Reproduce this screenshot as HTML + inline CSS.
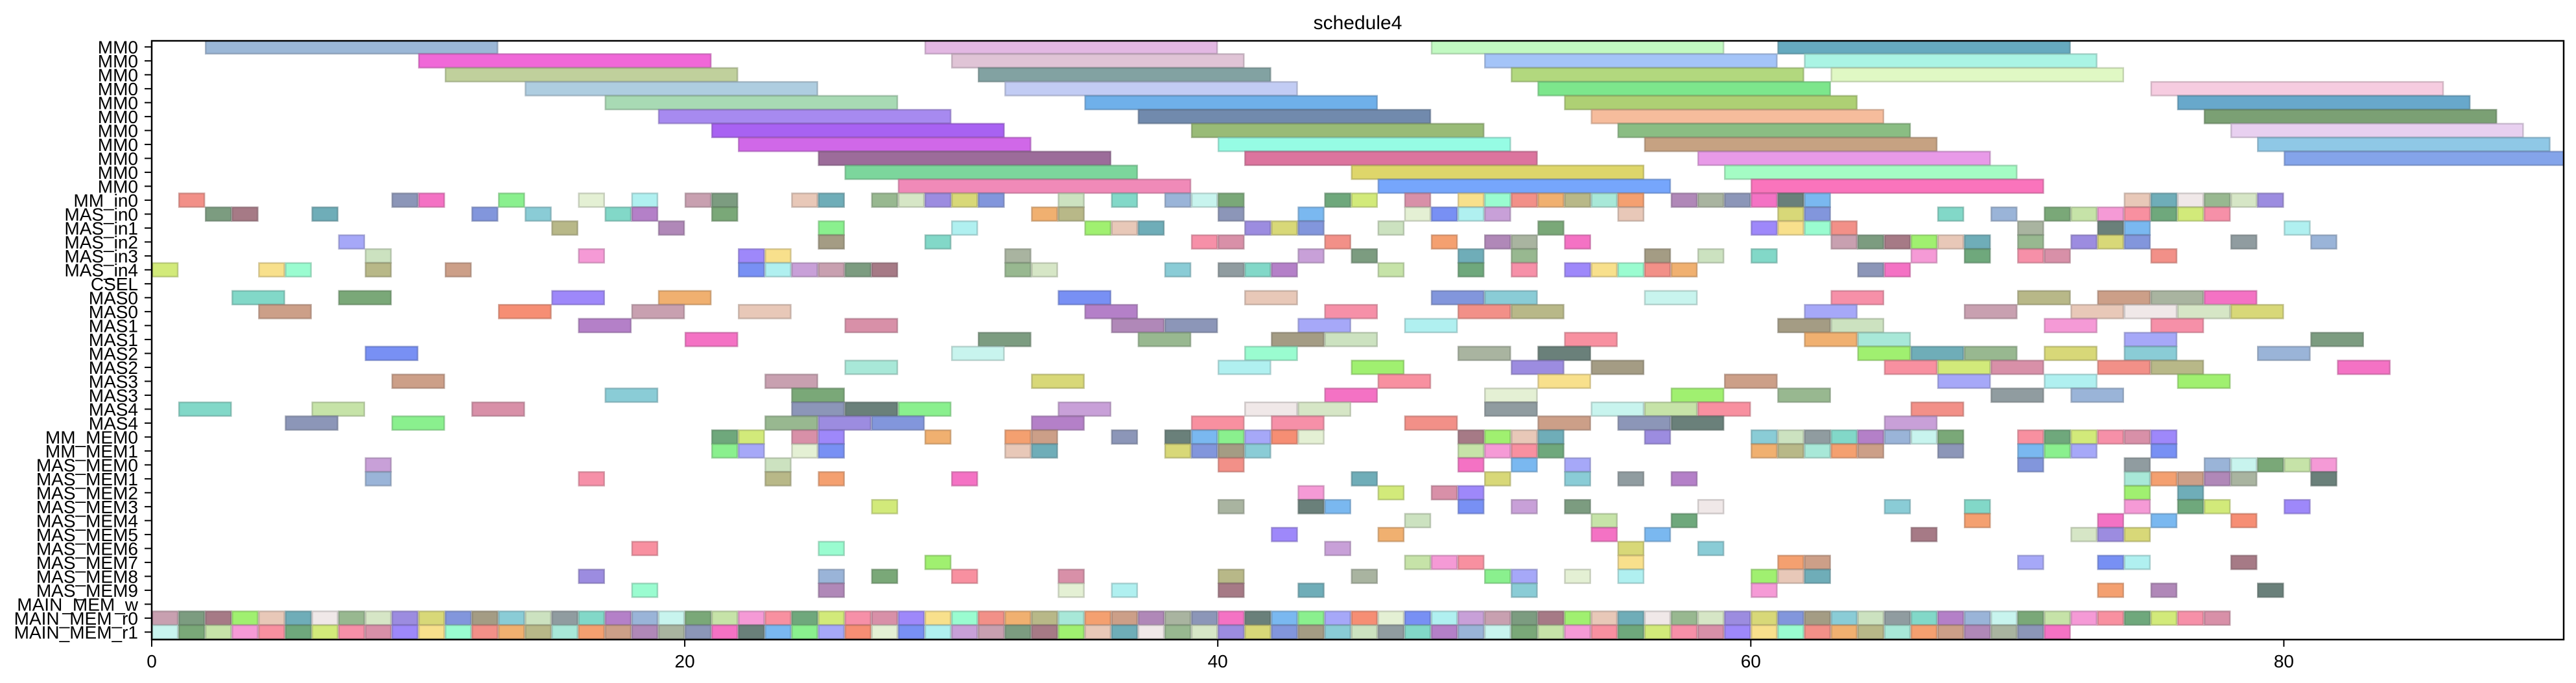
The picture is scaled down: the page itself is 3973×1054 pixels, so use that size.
<!DOCTYPE html>
<html><head><meta charset="utf-8"><style>
html,body{margin:0;padding:0;background:#fff;}
svg{display:block;font-family:"Liberation Sans","DejaVu Sans",sans-serif;}
</style></head><body>
<svg id="chart" width="3973" height="1054" viewBox="0 0 3973 1054" xmlns="http://www.w3.org/2000/svg">
<rect width="3973" height="1054" fill="#fff"/>
<text x="2094" y="45" font-size="30" text-anchor="middle" fill="#000">schedule4</text>
<defs><clipPath id="plotclip"><rect x="234" y="63" width="3720" height="924"/></clipPath></defs>
<g id="bars" clip-path="url(#plotclip)"></g>
<g id="axes"></g>
</svg>
<script>
const rowLabels = ["MM0","MM0","MM0","MM0","MM0","MM0","MM0","MM0","MM0","MM0","MM0","MM_in0","MAS_in0","MAS_in1","MAS_in2","MAS_in3","MAS_in4","CSEL","MAS0","MAS0","MAS1","MAS1","MAS2","MAS2","MAS3","MAS3","MAS4","MAS4","MM_MEM0","MM_MEM1","MAS_MEM0","MAS_MEM1","MAS_MEM2","MAS_MEM3","MAS_MEM4","MAS_MEM5","MAS_MEM6","MAS_MEM7","MAS_MEM8","MAS_MEM9","MAIN_MEM_w","MAIN_MEM_r0","MAIN_MEM_r1"];
const rowDurations = [11,11,11,11,11,11,11,11,11,11,11,1,1,1,1,1,1,1,2,2,2,2,2,2,2,2,2,2,1,1,1,1,1,1,1,1,1,1,1,1,1,1,1];
const rowStarts = [
[2,29,48,61],[10,30,50,62],[11,31,51,63],[14,32,52,75],[17,35,53,76],[19,37,54,77],[21,39,55,78],[22,40,56,79],[25,41,58,80],[26,45,59],[28,46,60],
[1,9,10,13,16,18,20,21,24,25,27,28,29,30,31,34,36,38,39,40,44,45,47,49,50,51,52,53,54,55,57,58,59,60,61,62,74,75,76,77,78,79],
[2,3,6,12,14,17,18,21,33,34,40,43,47,48,49,50,55,61,62,67,69,71,72,73,74,75,76,77],
[15,19,25,30,35,36,37,41,42,43,46,52,60,61,62,63,70,73,74,80],
[7,25,29,39,40,44,48,50,51,53,63,64,65,66,67,68,70,72,73,74,78,81],
[8,16,22,23,32,43,45,49,51,56,58,60,66,68,70,71,75],
[0,4,5,8,11,22,23,24,25,26,27,32,33,38,40,41,42,46,49,51,53,54,55,56,57,64,65],
[],
[3,7,15,19,34,41,48,50,56,63,70,73,75,77],
[4,13,18,22,35,44,49,51,62,68,72,74,76,78],
[16,26,36,38,43,47,61,63,71,75],
[20,31,37,42,44,53,62,64,74,81],
[8,30,41,49,52,64,66,68,71,74,79],
[26,40,45,51,54,65,67,69,73,75,82],
[9,23,33,46,52,59,67,71,76],
[17,24,44,50,57,61,69,72],
[1,6,12,24,26,28,34,41,43,50,54,56,58,66],
[5,9,23,25,27,33,39,42,47,52,55,57,65],
[21,22,24,25,29,32,33,36,38,39,40,41,42,43,49,50,51,52,56,60,61,62,63,64,65,66,67,70,71,72,73,74,75],
[21,22,24,25,32,33,38,39,40,41,49,50,51,52,60,61,62,63,64,67,70,71,72,75],
[8,23,40,49,51,53,70,74,77,78,79,80,81],
[8,16,23,25,30,45,50,53,55,57,74,75,76,77,78,81],
[43,46,48,49,74,76],
[27,40,43,44,49,51,53,58,65,68,74,76,77,80],
[47,54,57,68,73,75,78],
[42,46,54,56,66,72,73,74],
[18,25,44,55,58],
[29,47,48,49,55,61,62,70,73,74,78],
[16,25,27,30,34,40,45,50,51,53,55,60,61,62],
[18,25,34,36,40,43,51,60,73,75,79],
[],
[0,1,2,3,4,5,6,7,8,9,10,11,12,13,14,15,16,17,18,19,20,21,22,23,24,25,26,27,28,29,30,31,32,33,34,35,36,37,38,39,40,41,42,43,44,45,46,47,48,49,50,51,52,53,54,55,56,57,58,59,60,61,62,63,64,65,66,67,68,69,70,71,72,73,74,75,76,77],
[0,1,2,3,4,5,6,7,8,9,10,11,12,13,14,15,16,17,18,19,20,21,22,23,24,25,26,27,28,29,30,31,32,33,34,35,36,37,38,39,40,41,42,43,44,45,46,47,48,49,50,51,52,53,54,55,56,57,58,59,60,61,62,63,64,65,66,67,68,69,70,71]
];
const xTicks = [0,20,40,60,80];
const xMin = 0, xMax = 90.5;

// styles (not data)
const mmColors = [
["#9bb7d6","#e2b8e2","#c2f9c2","#66aabf"],["#f068d8","#e0c4d6","#a4c4f8","#aaf4e4"],
["#c0d09c","#82a2a2","#b2d87e","#e0f8c4"],["#aecde0","#c2ccf4","#7de68c","#f6cce0"],
["#a8dab4","#6fb0ea","#aed074","#68a8cb"],["#a78af0","#718aad","#f6bc9c","#7ba074"],
["#a862f2","#99bb77","#8abd83","#e8d0f0"],["#d068e8","#96fce4","#c6a282","#8fc8e6"],
["#9c6c9a","#dc749e","#e89ae8","#84a4ea"],["#7cd69c","#ded66a","#a4fcc4"],["#f08ab8","#76a6fc","#fa74bc"]];
const palette = ["#c6e3a8","#a9b4a0","#6fadb8","#f59ad6","#8c96b8","#f0e8e8","#f890a0","#f472c4","#98b890","#6fa87c","#6a807a","#d6e6c6","#d2ea7a","#7ab8f0","#9c8ce0","#f690a8","#8af08e","#d8d878","#d890a8","#a6a8f8","#8296dc","#9e88fa","#f68e74","#a49c84","#f8e08c","#e4f0d4","#8accd6","#9afcd0","#7890f4","#cce2c0","#f29088","#b0f0f0","#909ca0","#f0b070","#c8a0d8","#82d8c8","#b8b888","#c8a0b0","#b480c8","#a8e8d8","#7c9c80","#9ab4d8","#f4a070","#a67a86","#c8f4ee","#cc9f88","#a0f070","#7aa878","#b088b8","#e8c8b8"];
const X = t => 234 + (t - xMin) * (3954 - 234) / (xMax - xMin);
const rowY = i => 72.4 + i * 21.5;
const NS = "http://www.w3.org/2000/svg";
const barsG = document.getElementById("bars");
const axesG = document.getElementById("axes");

function darker(hex){
  const n=parseInt(hex.slice(1),16);let r=n>>16,g=(n>>8)&255,b=n&255;
  r=Math.round(r*0.75);g=Math.round(g*0.75);b=Math.round(b*0.75);
  return "rgb("+r+","+g+","+b+")";
}

rowStarts.forEach((starts, ri) => {
  starts.forEach((s, k) => {
    const r = document.createElementNS(NS, "rect");
    const x0 = X(s), x1 = X(s + rowDurations[ri]);
    let col = ri <= 10 ? (mmColors[ri][k] || palette[k % palette.length]) : palette[(ri * 7 + s * 3) % palette.length];
    r.setAttribute("x", x0 + 1);
    r.setAttribute("y", rowY(ri) - 10.5);
    r.setAttribute("width", x1 - x0 - 2);
    r.setAttribute("height", 21);
    r.setAttribute("fill", col);
    r.setAttribute("stroke", darker(col));
    r.setAttribute("stroke-opacity", "0.6");
    r.setAttribute("stroke-width", "2.5");
    
    
    barsG.appendChild(r);
  });
});

// frame
const frame = document.createElementNS(NS, "rect");
frame.setAttribute("x", 234); frame.setAttribute("y", 63);
frame.setAttribute("width", 3954 - 234); frame.setAttribute("height", 987 - 63);
frame.setAttribute("fill", "none"); frame.setAttribute("stroke", "#000"); frame.setAttribute("stroke-width", "2.5");


axesG.appendChild(frame);

rowLabels.forEach((lab, i) => {
  const tk = document.createElementNS(NS, "line");
  tk.setAttribute("x1", 223); tk.setAttribute("x2", 234);
  tk.setAttribute("y1", rowY(i)); tk.setAttribute("y2", rowY(i));
  tk.setAttribute("stroke", "#000"); tk.setAttribute("stroke-width", "2");
  
  
  axesG.appendChild(tk);
  const t = document.createElementNS(NS, "text");
  t.setAttribute("x", 213); t.setAttribute("y", rowY(i) + 10);
  t.setAttribute("font-size", "28"); t.setAttribute("text-anchor", "end");
  t.textContent = lab;
  
  
  axesG.appendChild(t);
});

xTicks.forEach(v => {
  const tk = document.createElementNS(NS, "line");
  tk.setAttribute("x1", X(v)); tk.setAttribute("x2", X(v));
  tk.setAttribute("y1", 987); tk.setAttribute("y2", 998);
  tk.setAttribute("stroke", "#000"); tk.setAttribute("stroke-width", "2");
  
  
  axesG.appendChild(tk);
  const t = document.createElementNS(NS, "text");
  t.setAttribute("x", X(v)); t.setAttribute("y", 1030);
  t.setAttribute("font-size", "28"); t.setAttribute("text-anchor", "middle");
  t.textContent = v;
  
  
  axesG.appendChild(t);
});
</script>
</body></html>
